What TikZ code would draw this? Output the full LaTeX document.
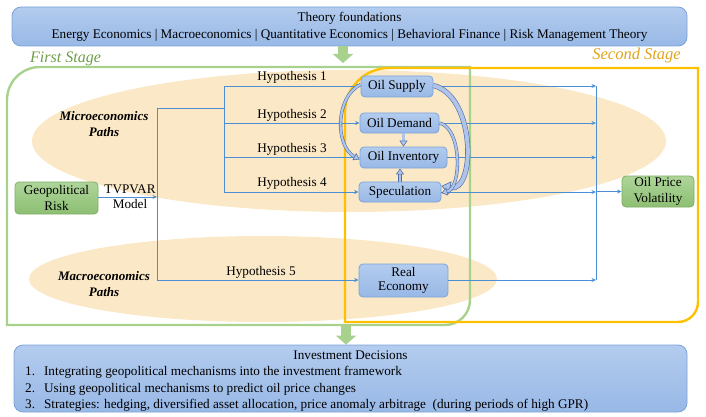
\documentclass[tikz,border=0pt]{standalone}
\usepackage{fontspec}
\setmainfont{Liberation Serif}
\usetikzlibrary{arrows.meta}
\definecolor{bline}{HTML}{4A8ED6}
\definecolor{bfill1}{HTML}{B3CCEE}
\definecolor{bfill2}{HTML}{98B8E6}
\definecolor{bdraw}{HTML}{7AA3DA}
\definecolor{gfill1}{HTML}{AED59A}
\definecolor{gfill2}{HTML}{8DBF73}
\definecolor{gdraw}{HTML}{7FAE62}
\definecolor{gframe}{HTML}{A9D18E}
\definecolor{oframe}{HTML}{FFC000}
\definecolor{peach}{HTML}{FBE8C6}
\definecolor{gtext}{HTML}{6E9E4A}
\definecolor{otext}{HTML}{E0A41E}
\definecolor{hdraw}{HTML}{4E6EA8}
\definecolor{hfill}{HTML}{AFC4E8}
\tikzset{
  bbox/.style={draw=bdraw, line width=0.8pt, rounded corners=4pt, top color=bfill1, bottom color=bfill2, inner sep=0pt, align=center, font=\fontsize{13.2}{14.5}\selectfont},
  gbox/.style={draw=gdraw, line width=0.8pt, rounded corners=4pt, top color=gfill1, bottom color=gfill2, inner sep=0pt, align=center, font=\fontsize{13.2}{15.5}\selectfont},
  bigbox/.style={draw=bdraw, line width=0.8pt, rounded corners=9pt, top color=bfill1, bottom color=bfill2, inner sep=0pt},
  txt/.style={inner sep=0pt, font=\fontsize{13.2}{15}\selectfont, align=center},
  pathlbl/.style={inner sep=0pt, font=\bfseries\itshape\fontsize{13}{15.5}\selectfont, align=center},
  bl/.style={draw=bline, line width=0.9pt},
  bla/.style={bl, -{Stealth[length=4.5pt,width=4pt]}},
  gar/.style={draw=gframe, line width=10pt, -{Triangle[length=9pt,width=20pt]}},
  hol/.style={draw=hdraw, double=hfill, line width=0.55pt, double distance=2.2pt, -{Triangle[open,fill=hfill,length=6pt,width=8pt]}},
  holb/.style={draw=hdraw, double=hfill, line width=0.6pt, double distance=4pt, -{Triangle[open,fill=hfill,length=9pt,width=13pt]}},
}
\begin{document}
\begin{tikzpicture}[x=1pt,y=-1pt]
\useasboundingbox (0,0) rectangle (706,417);
% ellipses
\fill[peach] (349,141) ellipse[x radius=317, y radius=71];
\fill[peach] (263,279) ellipse[x radius=234, y radius=43];
% connector corner points
\coordinate (j1) at (157,197);
\coordinate (v1t) at (157,108);
\coordinate (v1b) at (157,280);
\coordinate (v2m) at (224,108);
\coordinate (v2t) at (224,86);
\coordinate (v2b) at (224,192);
\coordinate (rt) at (596,86);
\coordinate (rb) at (596,280);
% frames
\draw[gframe, line width=2.4pt] (7,325) -- (7,100) arc[start angle=180, end angle=270, radius=33] -- (470,67) -- (470,300) arc[start angle=0, end angle=90, radius=25] -- cycle;
\draw[oframe, line width=2.4pt] (345,322) -- (345,112) arc[start angle=180, end angle=270, radius=44] -- (698,68) -- (698,302) arc[start angle=0, end angle=90, radius=20] -- cycle;
% top and bottom boxes
\node[bigbox, minimum width=675pt, minimum height=39pt] (top) at (349.5,26.5) {};
\node[txt] (topt) at (349.5,18) {Theory foundations};
\node[txt] (topl) at (349.5,35) {Energy Economics | Macroeconomics | Quantitative Economics | Behavioral Finance | Risk Management Theory};
\node[bigbox, minimum width=673pt, minimum height=67pt] (bot) at (350.5,378.5) {};
\node[txt] (bott) at (350.5,355) {Investment Decisions};
\node[txt, anchor=west] (bl1) at (25,372) {1.\hspace{9pt}Integrating geopolitical mechanisms into the investment framework};
\node[txt, anchor=west] (bl2) at (25,389) {2.\hspace{9pt}Using geopolitical mechanisms to predict oil price changes};
\node[txt, anchor=west] (bl3) at (25,405) {3.\hspace{9pt}Strategies: hedging, diversified asset allocation, price anomaly arbitrage\ \ (during periods of high GPR)};
% stage labels
\node[inner sep=0pt, text=gtext, font=\itshape\fontsize{16}{18}\selectfont, anchor=west] (fs) at (30,59) {First Stage};
\node[inner sep=0pt, text=otext, font=\itshape\fontsize{16.5}{18}\selectfont, anchor=east] (ss) at (681,56) {Second Stage};
% green block arrows
\coordinate (ga1) at (343,63);
\coordinate (gb0) at (346,325);
\draw[gar] (top.south -| ga1) -- (ga1);
\draw[gar] (gb0) -- (bot.north -| gb0);
% path labels
\node[pathlbl] (micro) at (104,124) {Microeconomics\\Paths};
\node[pathlbl] (macro) at (104,284) {Macroeconomics\\Paths};
% nodes
\node[gbox, minimum width=83pt, minimum height=32pt] (geo) at (56.5,198) {Geopolitical\\Risk};
\node[txt] (tvp) at (130,197) {TVPVAR\\Model};
\node[bbox, minimum width=72pt, minimum height=21pt] (sup) at (397,86.5) {Oil Supply};
\node[bbox, minimum width=79pt, minimum height=20pt] (dem) at (399.5,123) {Oil Demand};
\node[bbox, minimum width=87pt, minimum height=21pt] (inv) at (403.5,157.5) {Oil Inventory};
\node[bbox, minimum width=82pt, minimum height=20pt] (spe) at (400,192) {Speculation};
\node[bbox, minimum width=89pt, minimum height=33pt] (rec) at (403.5,280.5) {Real\\Economy};
\node[gbox, minimum width=72pt, minimum height=31pt] (opv) at (658,191.5) {Oil Price\\Volatility};
% connectors
\draw[bla] (geo.east |- j1) -- (j1);
\draw[bl] (v1b) -- (v1t) -- (v2m);
\draw[bl] (v2t) -- (v2b);
\draw[bla] (v2t) -- (sup.west |- v2t);
\draw[bla] (v2t |- dem) -- (dem.west);
\draw[bla] (v2t |- inv) -- (inv.west);
\draw[bla] (v2b) -- (spe.west |- v2b);
\draw[bla] (v1b) -- (rec.west |- v1b);
\draw[bla] (sup.east |- rt) -- (rt);
\draw[bla] (dem.east) -- (rt |- dem);
\draw[bla] (inv.east) -- (rt |- inv);
\draw[bla] (spe.east) -- (rt |- spe);
\draw[bla] (rec.east |- rb) -- (rb);
\draw[bl] (rt) -- (rb);
\draw[bla] (rt |- opv) -- (opv.west);
% hypothesis labels
\node[txt] (h1) at (292,77) {Hypothesis 1};
\node[txt] (h2) at (292,115) {Hypothesis 2};
\node[txt] (h3) at (292,149.5) {Hypothesis 3};
\node[txt] (h4) at (292,183) {Hypothesis 4};
\node[txt] (h5) at (261,272) {Hypothesis 5};
% hollow arrows
\draw[hol] ([yshift=2pt]sup.west) .. controls (335,97) and (335,146) .. ([yshift=-2pt]inv.west);
\draw[holb] ([yshift=1pt]sup.east) .. controls (476,96) and (476,193) .. ([yshift=6pt]spe.east);
\draw[hol] (dem.east) .. controls (462,128) and (462,188) .. ([yshift=-1pt]spe.east);
\draw[hol] (dem.south -| inv) -- (inv.north);
\draw[hol] (spe.north) -- (inv.south -| spe);
\end{tikzpicture}
\end{document}
